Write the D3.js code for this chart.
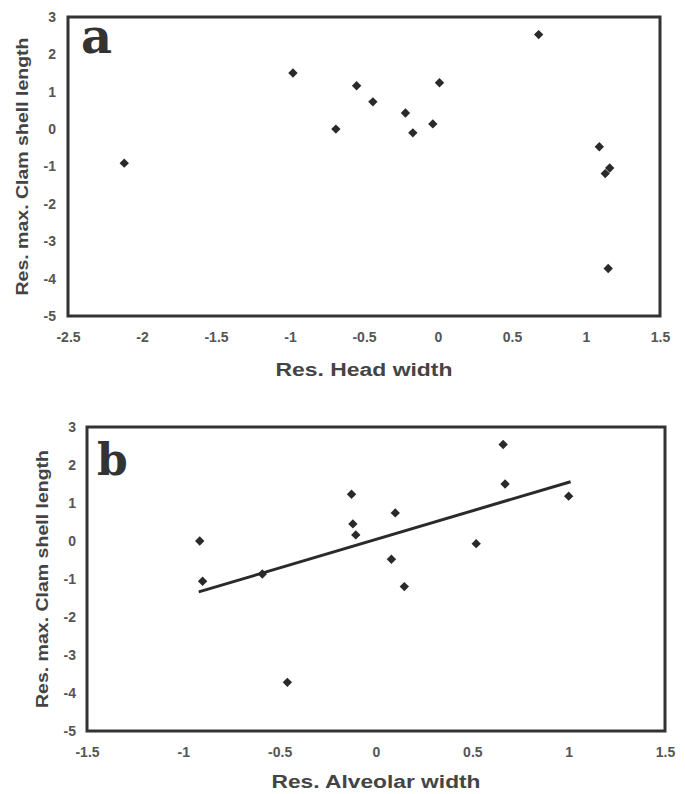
<!DOCTYPE html>
<html>
<head>
<meta charset="utf-8">
<script src="https://cdn.jsdelivr.net/npm/d3@7"></script>
<style>
  body { margin: 0; background: #fff; }
  svg { display: block; }
</style>
</head>
<body>
<svg id="chart" width="685" height="794"></svg>
<script>
// Shared y ticks (residual max. clam shell length)
const clamTicks = [3, 2, 1, 0, -1, -2, -3, -4, -5];

// Panel a: residual head width vs residual clam shell length
const headTicks = [-2.5, -2, -1.5, -1, -0.5, 0, 0.5, 1, 1.5];
const headWidth = [-2.12, -0.98, -0.69, -0.55, -0.44, -0.22, -0.17, -0.035, 0.01, 0.68, 1.09, 1.16, 1.13, 1.15];
const clamA     = [-0.91, 1.50, 0.00, 1.16, 0.73, 0.43, -0.10, 0.14, 1.24, 2.53, -0.47, -1.04, -1.19, -3.73];

// Panel b: residual alveolar width vs residual clam shell length
const alveolarTicks = [-1.5, -1, -0.5, 0, 0.5, 1, 1.5];
const alveolarWidth = [-0.915, -0.90, -0.59, -0.46, -0.127, -0.12, -0.105, 0.10, 0.08, 0.147, 0.52, 0.66, 0.67, 1.00];
const clamB         = [0.00, -1.06, -0.87, -3.72, 1.23, 0.45, 0.16, 0.74, -0.48, -1.20, -0.07, 2.54, 1.50, 1.18];

// Fitted regression line endpoints for panel b
const fitX = [-0.92, 1.01];
const fitY = [-1.34, 1.56];

const svg = d3.select("#chart");
const sans = "'Liberation Sans', Arial, sans-serif";
const serif = "'DejaVu Serif', 'Liberation Serif', serif";

function panel(opts) {
  const x = d3.scaleLinear().domain([opts.xTicks[0], opts.xTicks[opts.xTicks.length - 1]])
    .range([opts.left, opts.right]);
  const y = d3.scaleLinear().domain([-5, 3]).range([opts.bottom, opts.top]);
  const g = svg.append("g");

  // y axis labels
  const ya = g.append("g")
    .attr("transform", `translate(${opts.left},0)`)
    .call(d3.axisLeft(y).tickValues(clamTicks).tickSize(0).tickPadding(opts.yPad).tickFormat(d => String(d)));
  ya.select(".domain").remove();
  ya.selectAll("text").attr("font-family", sans).attr("font-size", 14).attr("font-weight", "bold").attr("fill", "#555");

  // x axis labels
  const xa = g.append("g")
    .attr("transform", `translate(0,${opts.bottom})`)
    .call(d3.axisBottom(x).tickValues(opts.xTicks).tickSize(0).tickPadding(16).tickFormat(d => String(d)));
  xa.select(".domain").remove();
  xa.selectAll("text").attr("font-family", sans).attr("font-size", 14).attr("font-weight", "bold").attr("fill", "#555");

  // frame
  g.append("rect")
    .attr("x", opts.left).attr("y", opts.top)
    .attr("width", opts.right - opts.left).attr("height", opts.bottom - opts.top)
    .attr("fill", "none").attr("stroke", "#333").attr("stroke-width", 3);

  // fitted line
  if (opts.fitX) {
    g.append("path")
      .datum(opts.fitX.map((v, i) => [v, opts.fitY[i]]))
      .attr("d", d3.line().x(d => x(d[0])).y(d => y(d[1])))
      .attr("stroke", "#2a2a2a").attr("stroke-width", 3).attr("fill", "none");
  }

  // points
  const sym = d3.symbol().type(d3.symbolSquare).size(44);
  g.selectAll("path.pt")
    .data(opts.xs.map((v, i) => [v, opts.ys[i]]))
    .join("path")
    .attr("class", "pt")
    .attr("d", sym)
    .attr("transform", d => `translate(${x(d[0])},${y(d[1])}) rotate(45)`)
    .attr("fill", "#2a2a2a");

  // panel letter
  g.append("text")
    .attr("x", opts.letterX).attr("y", opts.letterY)
    .attr("font-family", serif).attr("font-weight", "bold")
    .attr("font-size", opts.letterSize).attr("fill", "#333")
    .text(opts.letter);

  // axis titles
  g.append("text")
    .attr("x", (opts.left + opts.right) / 2).attr("y", opts.xTitleY)
    .attr("text-anchor", "middle").attr("dominant-baseline", "central")
    .attr("font-family", sans).attr("font-weight", "bold").attr("font-size", 18).attr("fill", "#444")
    .attr("textLength", opts.xTitleLen).attr("lengthAdjust", "spacingAndGlyphs")
    .text(opts.xTitle);

  const cy = (opts.top + opts.bottom) / 2;
  g.append("text")
    .attr("transform", `translate(${opts.yTitleX},${cy}) rotate(-90)`)
    .attr("text-anchor", "middle").attr("dominant-baseline", "central")
    .attr("font-family", sans).attr("font-weight", "bold").attr("font-size", 16).attr("fill", "#444")
    .attr("textLength", 258).attr("lengthAdjust", "spacingAndGlyphs")
    .text("Res. max. Clam shell length");
}

panel({
  left: 68, right: 660, top: 17, bottom: 316, yPad: 12,
  xTicks: headTicks, xs: headWidth, ys: clamA,
  letter: "a", letterX: 81, letterY: 53, letterSize: 48,
  xTitle: "Res. Head width", xTitleY: 370, xTitleLen: 177, yTitleX: 22
});

panel({
  left: 87, right: 665, top: 427, bottom: 731, yPad: 11,
  xTicks: alveolarTicks, xs: alveolarWidth, ys: clamB,
  fitX: fitX, fitY: fitY,
  letter: "b", letterX: 97, letterY: 475, letterSize: 44,
  xTitle: "Res. Alveolar width", xTitleY: 782, xTitleLen: 209, yTitleX: 42
});
</script>
</body>
</html>
